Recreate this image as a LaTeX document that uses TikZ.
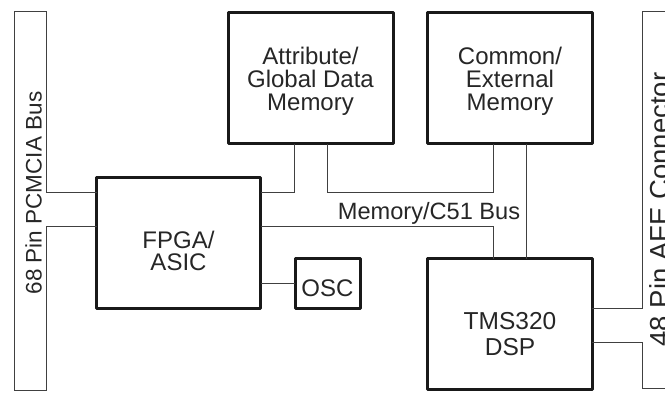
\documentclass[tikz,border=0pt]{standalone}
\usepackage{fontspec}
\setmainfont{Liberation Sans}
\begin{document}
\begin{tikzpicture}[x=1pt,y=-1pt,
  blk/.style={draw=black!90, line width=3pt, line join=round, minimum width=165pt, minimum height=131pt, inner sep=0pt, outer sep=0pt},
  wire/.style={draw=black!75, line width=1pt},
  txt/.style={text=black!85, inner sep=0pt, anchor=north, align=center, font=\fontsize{24}{22.8}\selectfont},
  lbl/.style={text=black!85, inner sep=0pt}]
\useasboundingbox (0,0) rectangle (665,393);
% blocks
\node[blk] (attr) at (310.5,78.5) {};
\node[blk] (com) at (509.5,78.5) {};
\node[blk, minimum width=164pt] (fpga) at (178.5,243.5) {};
\node[blk, minimum height=130pt] (dsp) at (509.5,324) {};
\node[blk, minimum width=65.5pt, minimum height=50pt] (osc) at (327.75,284) {};
% block texts
\node[txt] (attrt) at (310.5,47) {Attribute/\\Global Data\\Memory};
\node[txt] (comt) at (510,47) {Common/\\External\\Memory};
\node[txt] (fpgat) at (178.5,230.5) {FPGA/\\ASIC};
\node[txt, font=\fontsize{24.5}{26.3}\selectfont] (dspt) at (510,312) {TMS320\\DSP};
\node[txt] (osct) at (327.5,279.5) {OSC};
% helper coordinates
\coordinate (xa1) at (294,0);
\coordinate (xa2) at (327,0);
\coordinate (xc1) at (493,0);
\coordinate (xc2) at (526,0);
\coordinate (ya) at (0,193);
\coordinate (yb) at (0,227);
\coordinate (pa) at (46,193);
\coordinate (pb) at (46,227);
\coordinate (qa) at (642,308.5);
\coordinate (qb) at (642,342);
\coordinate (lt) at (46,12);
\coordinate (ltl) at (14,12);
\coordinate (lbl) at (14,390);
\coordinate (lb) at (46,390);
\coordinate (rt) at (642,12);
\coordinate (rtr) at (690,12);
\coordinate (rb) at (642,388);
\coordinate (rbr) at (690,388);
% left PCMCIA bus
\draw[wire] (pa) -- (lt) -- (ltl) -- (lbl) -- (lb) -- (pb);
\draw[wire] (pa) -- (pa -| fpga.west);
\draw[wire] (pb) -- (pb -| fpga.west);
\node[lbl, rotate=90, font=\fontsize{22.5}{22.5}\selectfont] (pcm) at (33.5,193) {68 Pin PCMCIA Bus};
% right AFE connector
\draw[wire] (rtr) -- (rt) -- (qa) -- (qa -| dsp.east);
\draw[wire] (qb -| dsp.east) -- (qb) -- (rb) -- (rbr);
\node[lbl, rotate=90, font=\fontsize{27.5}{27.5}\selectfont] (afe) at (660,209.5) {48 Pin AFE Connector};
% buses
\draw[wire] (attr.south -| xa1) |- (fpga.east |- ya);
\draw[wire] (attr.south -| xa2) |- (xc1 |- ya) -- (com.south -| xc1);
\draw[wire] (fpga.east |- yb) -| (dsp.north -| xc1);
\draw[wire] (com.south -| xc2) -- (dsp.north -| xc2);
\draw[wire] (fpga.east |- osc.west) -- (osc.west);
\node[lbl, anchor=base, font=\fontsize{23.6}{24}\selectfont] (buslbl) at (429,220) {Memory/C51 Bus};
\end{tikzpicture}
\end{document}
